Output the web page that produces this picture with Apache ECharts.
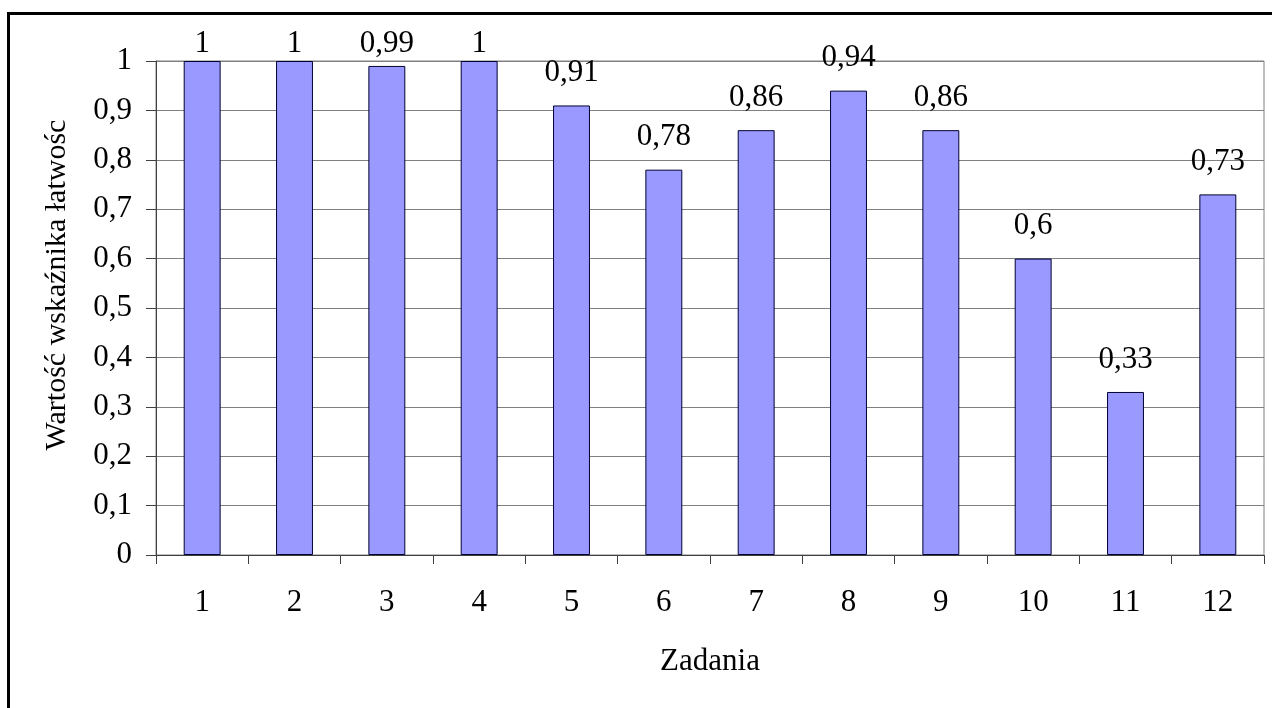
<!DOCTYPE html>
<html>
<head>
<meta charset="utf-8">
<script src="https://cdn.jsdelivr.net/npm/echarts@6/dist/echarts.min.js"></script>
<style>
html,body{margin:0;padding:0;background:#fff;}
#c{width:1272px;height:708px;}
</style>
</head>
<body>
<div id="c"></div>
<script>
var categories = ['1','2','3','4','5','6','7','8','9','10','11','12'];
var values = [1, 1, 0.99, 1, 0.91, 0.78, 0.86, 0.94, 0.86, 0.6, 0.33, 0.73];
var xAxisTitle = 'Zadania';
var yAxisTitle = 'Wartość wskaźnika łatwośc';

function comma(v){ return String(v).replace('.', ','); }

var FONT = '"Liberation Serif", "Times New Roman", serif';
var LABEL_TOP_LIMIT = 28;
var chart = echarts.init(document.getElementById('c'), null, {renderer:'canvas'});
chart.setOption({
  animation: false,
  backgroundColor: '#fff',
  textStyle: {fontFamily: FONT},
  grid: {left: 156, top: 61, right: 8, bottom: 153, show: true, borderColor: '#808080', borderWidth: 1, containLabel: false},
  graphic: [
    {type:'line', shape:{x1:7, y1:13.5, x2:1272, y2:13.5}, style:{stroke:'#000', lineWidth:3}, z:100},
    {type:'line', shape:{x1:8.5, y1:12, x2:8.5, y2:708}, style:{stroke:'#000', lineWidth:3}, z:100}
  ],
  xAxis: {
    type: 'category',
    data: categories,
    name: xAxisTitle,
    nameLocation: 'middle',
    nameGap: 91,
    nameTextStyle: {fontFamily: FONT, fontSize: 31, color: '#000'},
    axisLine: {lineStyle: {color: '#404040', width: 1}},
    axisTick: {show: true, length: 9, lineStyle: {color: '#404040'}},
    axisLabel: {fontFamily: FONT, fontSize: 31, color: '#000', margin: 32},
    splitLine: {show: false}
  },
  yAxis: {
    type: 'value',
    min: 0, max: 1, interval: 0.1,
    name: yAxisTitle,
    nameLocation: 'middle',
    nameGap: 84,
    nameRotate: 90,
    nameTextStyle: {fontFamily: FONT, fontSize: 30, color: '#000', padding: [0, 0, 0, 46]},
    axisLine: {show: true, lineStyle: {color: '#404040', width: 1}},
    axisTick: {show: true, length: 10, lineStyle: {color: '#404040'}},
    axisLabel: {fontFamily: FONT, fontSize: 31, color: '#000', margin: 24, formatter: function(v){ return comma(Math.round(v*10)/10); }},
    splitLine: {show: true, lineStyle: {color: '#808080', width: 1}}
  },
  series: [{
    type: 'bar',
    data: values,
    barWidth: '40%',
    itemStyle: {color: '#9999FF', borderColor: '#000033', borderWidth: 1},
    label: {show: true, position: 'top', distance: 17, fontFamily: FONT, fontSize: 31, color: '#000', formatter: function(p){ return comma(p.value); }},
    labelLayout: function(params){
      var r = params.labelRect;
      if (r.y < LABEL_TOP_LIMIT) {
        return {y: LABEL_TOP_LIMIT, align: 'center', verticalAlign: 'top'};
      }
      return {};
    }
  }]
});
</script>
</body>
</html>
